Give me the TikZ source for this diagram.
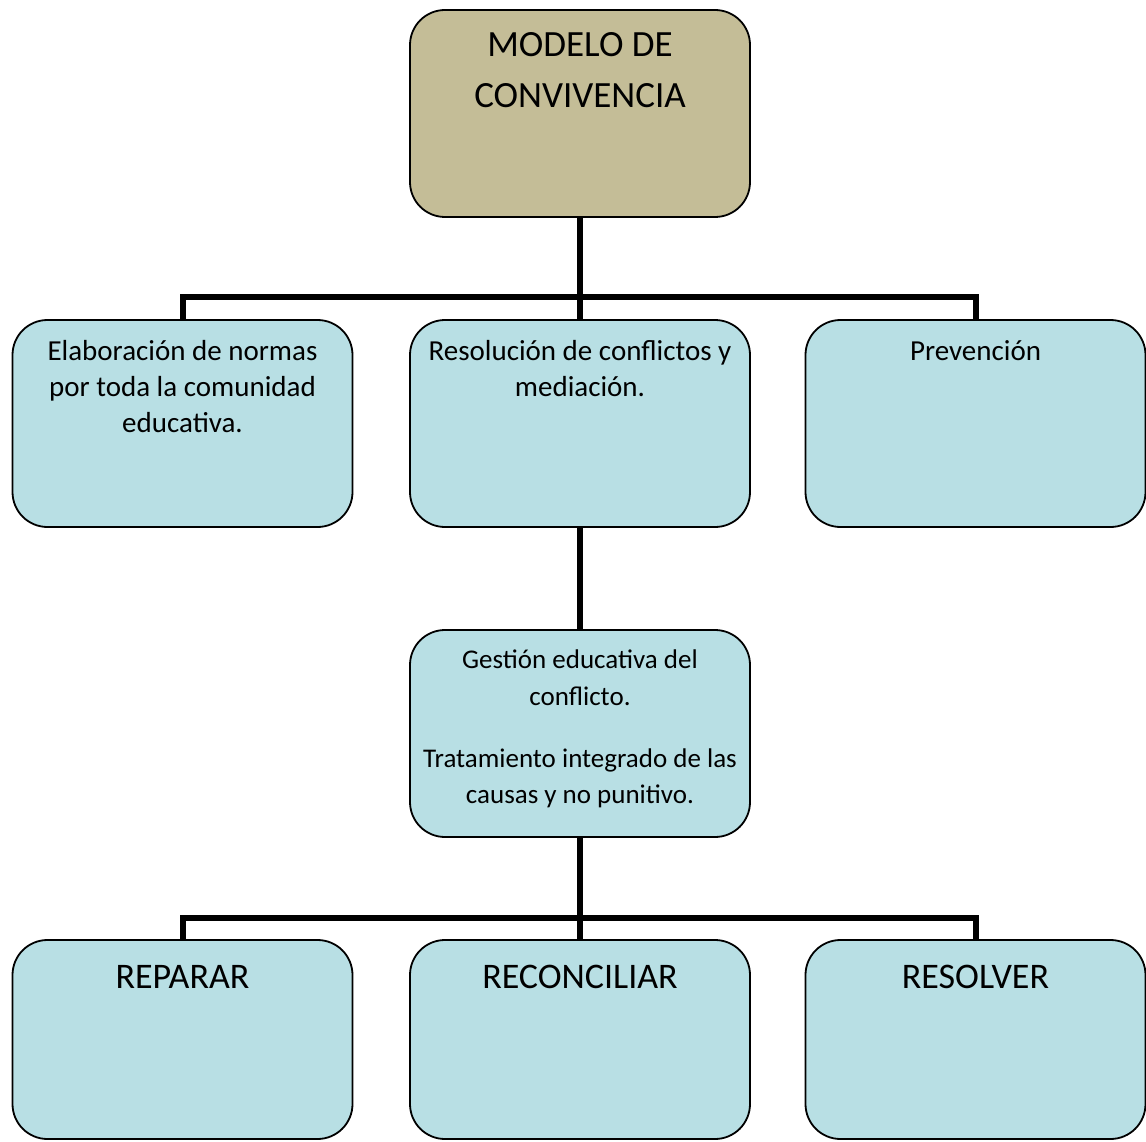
\documentclass[tikz,border=0pt]{standalone}
\usepackage{fontspec}
\setmainfont{Carlito}
\definecolor{boxblue}{RGB}{184,223,228}
\definecolor{boxtan}{RGB}{196,189,151}
\begin{document}
\begin{tikzpicture}[x=1pt,y=-1pt,
  box/.style={draw=black, line width=1.8pt, rounded corners=35pt, minimum width=340pt, minimum height=207pt, inner sep=0pt, fill=boxblue},
  conn/.style={line width=6pt, black},
  txt/.style={anchor=base, inner sep=0pt},
  big/.style={txt, font=\fontsize{37}{45}\selectfont},
  mid/.style={txt, font=\fontsize{29}{36}\selectfont},
  sml/.style={txt, font=\fontsize{27}{36}\selectfont},
  lab/.style={txt, font=\fontsize{36}{44}\selectfont}]
\useasboundingbox (0,0) rectangle (1146,1142);
% boxes
\node[box, fill=boxtan] (top) at (580,113.5) {};
\node[box] (l) at (182.5,423.5) {};
\node[box] (m) at (580,423.5) {};
\node[box] (r) at (975.5,423.5) {};
\node[box] (g) at (580,733.5) {};
\node[box, minimum height=199pt] (bl) at (182.5,1039.5) {};
\node[box, minimum height=199pt] (bm) at (580,1039.5) {};
\node[box, minimum height=199pt] (br) at (975.5,1039.5) {};
% connectors
\coordinate (j1) at (580,297);
\coordinate (j2) at (580,918);
\draw[conn] (top.south) -- (j1);
\draw[conn] (l.north) |- (j1) -| (r.north);
\draw[conn] (j1) -- (m.north);
\draw[conn] (m.south) -- (g.north);
\draw[conn] (g.south) -- (j2);
\draw[conn] (bl.north) |- (j2) -| (br.north);
\draw[conn] (j2) -- (bm.north);
% texts
\node[big] (t1) at (580,57) {MODELO DE};
\node[big] (t2) at (580,108) {CONVIVENCIA};
\node[mid] (l1) at (182.5,360) {Elaboración de normas};
\node[mid] (l2) at (182.5,396) {por toda la comunidad};
\node[mid] (l3) at (182.5,432) {educativa.};
\node[mid] (m1) at (580,360) {Resolución de conflictos y};
\node[mid] (m2) at (580,396) {mediación.};
\node[mid] (r1) at (975.5,360) {Prevención};
\node[sml] (g1) at (580,668) {Gestión educativa del};
\node[sml] (g2) at (580,705) {conflicto.};
\node[sml] (g3) at (580,767) {Tratamiento integrado de las};
\node[sml] (g4) at (580,803) {causas y no punitivo.};
\node[lab] (b1) at (182.5,988) {REPARAR};
\node[lab] (b2) at (580,988) {RECONCILIAR};
\node[lab] (b3) at (975.5,988) {RESOLVER};
\end{tikzpicture}
\end{document}
